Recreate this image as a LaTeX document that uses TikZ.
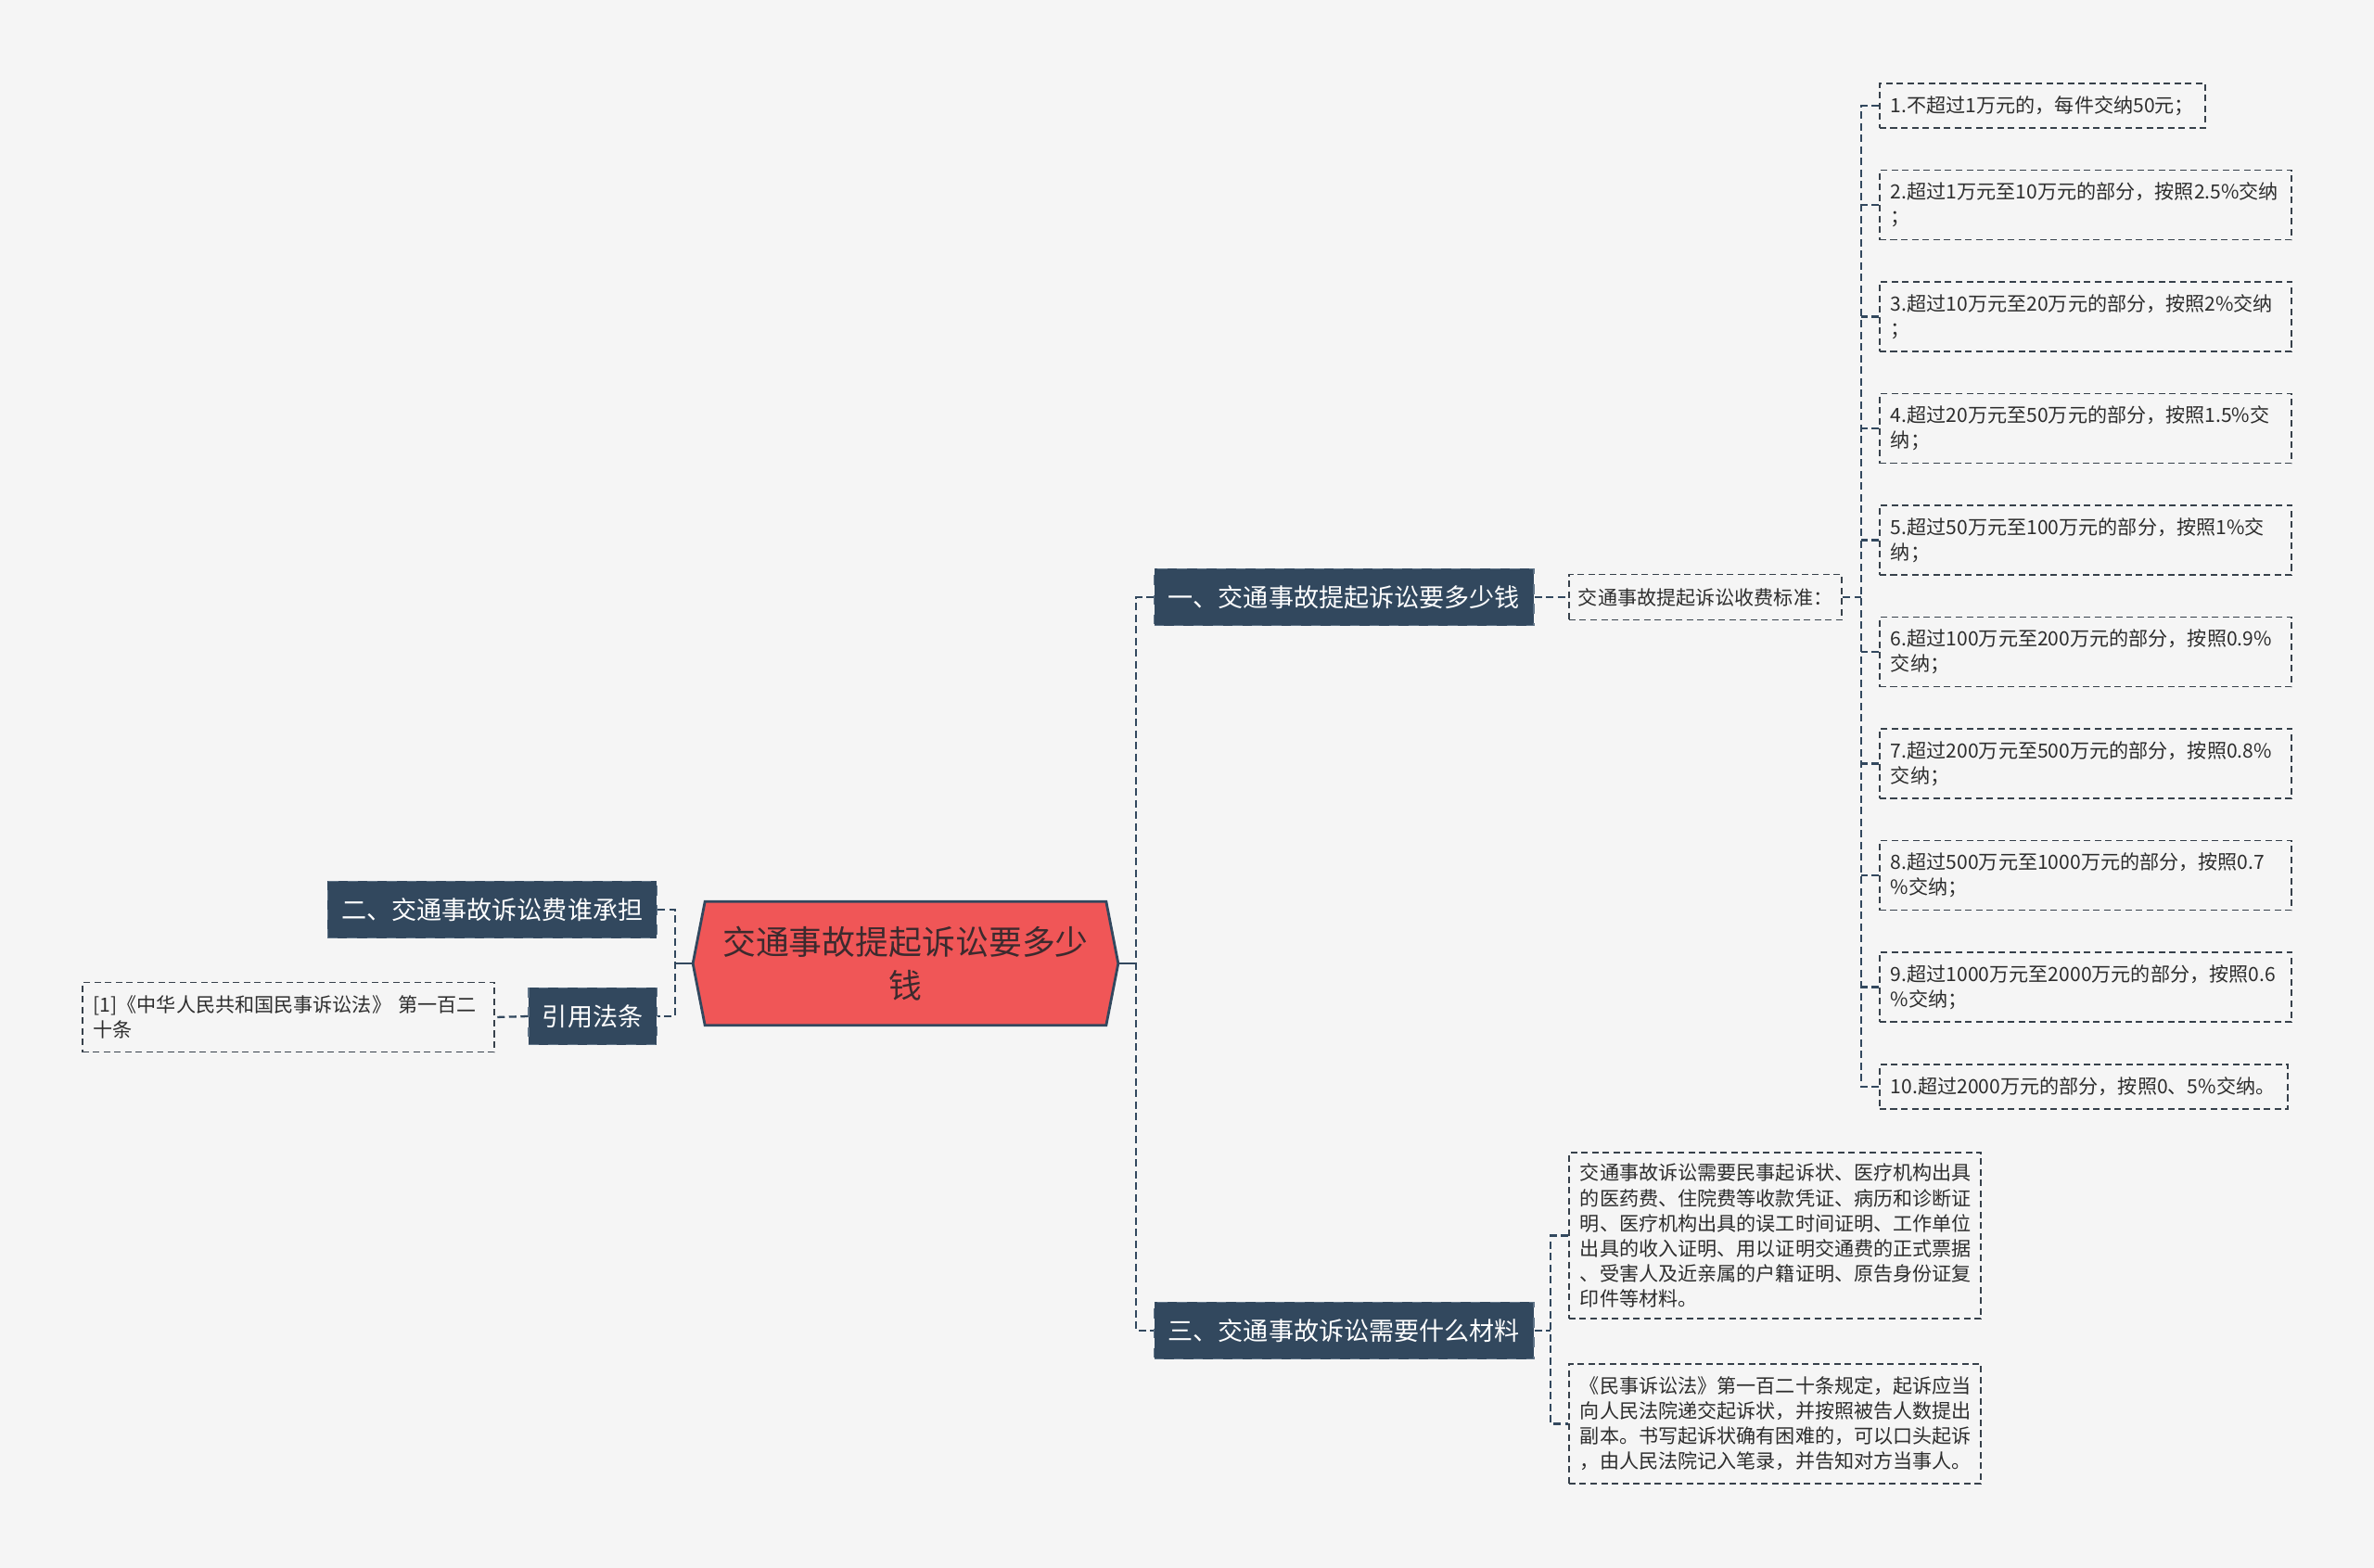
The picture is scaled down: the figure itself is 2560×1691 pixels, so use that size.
\documentclass[tikz,border=0pt]{standalone}
\usepackage{fontspec}
\setmainfont{Noto Sans CJK SC}
\usetikzlibrary{backgrounds}

\definecolor{pagebg}{RGB}{245,245,245}
\definecolor{navy}{RGB}{50,72,94}
\definecolor{navyedge}{RGB}{95,115,135}
\definecolor{rootred}{RGB}{240,86,87}
\definecolor{roottext}{RGB}{60,42,46}
\definecolor{notetext}{RGB}{45,45,45}
\definecolor{noteedge}{RGB}{55,65,75}

\begin{document}
\begin{tikzpicture}[x=0.01cm, y=-0.01cm,
    roottitle/.style={inner sep=0pt, minimum width=4.57cm, minimum height=1.32cm, align=center,
      text=roottext, font=\fontsize{10.2}{13.4}\selectfont},
    topic/.style={fill=navy, draw=navyedge, dashed, line width=0.4pt, text=white,
      font=\fontsize{7.7}{9}\selectfont, inner xsep=0.15cm, inner ysep=0pt, minimum height=0.61cm},
    note/.style={draw=noteedge, dash pattern=on 0.07cm off 0.045cm, line width=0.55pt, text=notetext,
      font=\fontsize{6}{7.7}\selectfont, align=left, inner xsep=0.12cm, inner ysep=0.06cm},
    link/.style={draw=navy, line width=0.65pt, dash pattern=on 0.08cm off 0.045cm},
    stem/.style={draw=navy, line width=0.8pt}]
			\useasboundingbox (0,0) rectangle (2560,1691);

			% Define the root and the main topics
			\node[roottitle] (root) at (976.5,1039) {交通事故提起诉讼要多少\\钱};
			\node[topic, anchor=west] (q1) at (1244,644) {一、交通事故提起诉讼要多少钱};
			\node[topic, anchor=west] (q3) at (1244,1435) {三、交通事故诉讼需要什么材料};
			\node[topic, anchor=east] (q2) at (709,981) {二、交通事故诉讼费谁承担};
			\node[topic, anchor=east] (law) at (709,1096) {引用法条};

			% Notes of the left side
			\node[note, anchor=east, text width=4.2cm, minimum height=0.75cm] (ref) at (534,1097) {[1]《中华人民共和国民事诉讼法》 第一百二\\十条};

			% Notes of the first topic
			\node[note, anchor=west, inner xsep=0.1cm, minimum height=0.49cm] (fee) at (1691,644) {交通事故提起诉讼收费标准：};
			\node[note, anchor=west, text width=3.27cm, minimum height=0.48cm] (leaf1) at (2026,114) {1.不超过1万元的，每件交纳50元；};
			\node[note, anchor=west, text width=4.2cm, minimum height=0.75cm] (leaf2) at (2026,221) {2.超过1万元至10万元的部分，按照2.5\%交纳\\；};
			\node[note, anchor=west, text width=4.2cm, minimum height=0.75cm] (leaf3) at (2026,341.5) {3.超过10万元至20万元的部分，按照2\%交纳\\；};
			\node[note, anchor=west, text width=4.2cm, minimum height=0.75cm] (leaf4) at (2026,462) {4.超过20万元至50万元的部分，按照1.5\%交\\纳；};
			\node[note, anchor=west, text width=4.2cm, minimum height=0.75cm] (leaf5) at (2026,582.5) {5.超过50万元至100万元的部分，按照1\%交\\纳；};
			\node[note, anchor=west, text width=4.2cm, minimum height=0.75cm] (leaf6) at (2026,703) {6.超过100万元至200万元的部分，按照0.9\%\\交纳；};
			\node[note, anchor=west, text width=4.2cm, minimum height=0.75cm] (leaf7) at (2026,823.5) {7.超过200万元至500万元的部分，按照0.8\%\\交纳；};
			\node[note, anchor=west, text width=4.2cm, minimum height=0.75cm] (leaf8) at (2026,944) {8.超过500万元至1000万元的部分，按照0.7\\\%交纳；};
			\node[note, anchor=west, text width=4.2cm, minimum height=0.75cm] (leaf9) at (2026,1064.5) {9.超过1000万元至2000万元的部分，按照0.6\\\%交纳；};
			\node[note, anchor=west, text width=4.16cm, minimum height=0.48cm] (leaf10) at (2026,1172) {10.超过2000万元的部分，按照0、5\%交纳。};

			% Notes of the third topic
			\node[note, anchor=west, text width=4.2cm, minimum height=1.79cm] (matA) at (1691,1332.5) {交通事故诉讼需要民事起诉状、医疗机构出具\\的医药费、住院费等收款凭证、病历和诊断证\\明、医疗机构出具的误工时间证明、工作单位\\出具的收入证明、用以证明交通费的正式票据\\、受害人及近亲属的户籍证明、原告身份证复\\印件等材料。};
			\node[note, anchor=west, text width=4.2cm, minimum height=1.29cm] (matB) at (1691,1535.5) {《民事诉讼法》第一百二十条规定，起诉应当\\向人民法院递交起诉状，并按照被告人数提出\\副本。书写起诉状确有困难的，可以口头起诉\\，由人民法院记入笔录，并告知对方当事人。};

			% Page and the hexagon behind the root
			\begin{scope}[on background layer]
				\fill[pagebg] (0,0) rectangle (2560,1691);
				\filldraw[fill=rootred, draw=navy, line width=0.8pt] ([xshift=0.13cm]root.north west) -- ([xshift=-0.13cm]root.north east) -- (root.east)
					-- ([xshift=-0.13cm]root.south east) -- ([xshift=0.13cm]root.south west) -- (root.west) -- cycle;
			\end{scope}

			% Draw the connectors
			\coordinate (rt) at (1225,1039);
			\coordinate (lt) at (728,1039);
			\coordinate (ft) at (2007,644);
			\coordinate (mt) at (1672,1435);
			\draw[stem] (root.east) -- (rt);
			\draw[stem] (root.west) -- (lt);
			\draw[link] (q1.west) -| (rt) |- (q3.west);
			\draw[link] (q2.east) -| (lt) |- (law.east);
			\draw[link] (law.west) -- (ref.east);
			\draw[link] (q1.east) -- (fee.west);
			\draw[link] (fee.east) -- (ft);
			\draw[link] (leaf1.west) -| (ft) |- (leaf10.west);
			\foreach \i in {2,...,9}
				\draw[link] (leaf\i.west) -- (ft |- leaf\i.west);
			\draw[link] (q3.east) -- (mt);
			\draw[link] (matA.west) -| (mt) |- (matB.west);

		\end{tikzpicture}
\end{document}
